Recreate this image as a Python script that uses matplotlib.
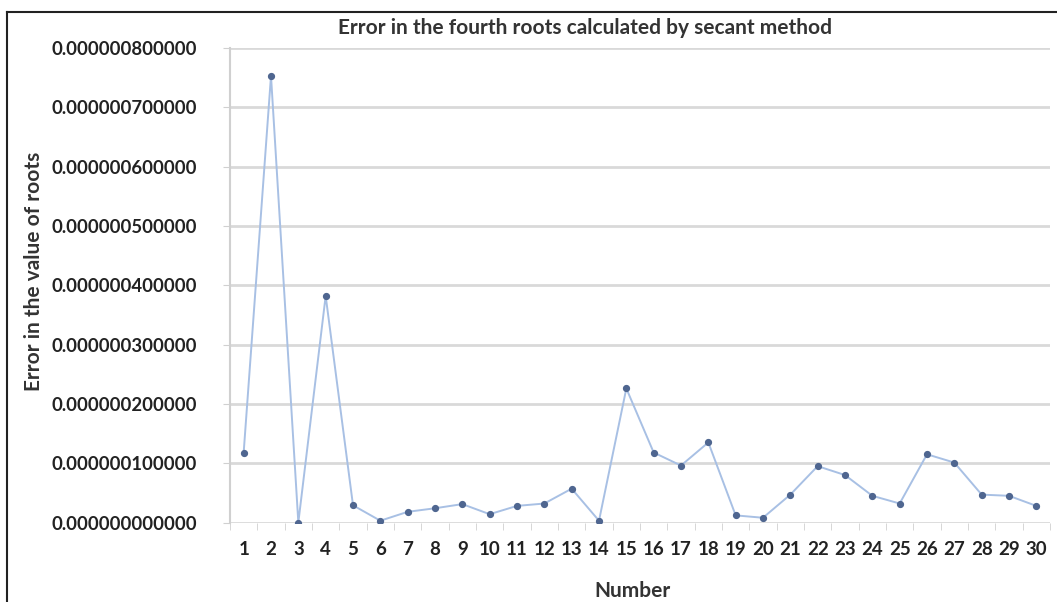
import matplotlib
matplotlib.use("Agg")
import matplotlib.pyplot as plt
from matplotlib.lines import Line2D
from matplotlib.ticker import FixedLocator, FuncFormatter

numbers = list(range(1, 31))
errors_e9 = [118, 753, 0, 382, 29, 3, 18, 24, 31, 14,
             28, 32, 57, 3, 226, 118, 96, 135, 12, 8,
             47, 95, 80, 45, 32, 115, 101, 47, 45, 28]
errors = [v * 1e-9 for v in errors_e9]
y_ticks = [i * 1e-7 for i in range(0, 9)]

title = "Error in the fourth roots calculated by secant method"
xlabel = "Number"
ylabel = "Error in the value of roots"

plt.rcParams['font.family'] = ['Lato', 'DejaVu Sans']
plt.rcParams['font.weight'] = 'bold'

fig = plt.figure(figsize=(10.57, 6.02), dpi=100)
ax = fig.add_axes([230 / 1057, 79.5 / 602, 820 / 1057, 474.5 / 602])

ax.plot(numbers, errors, color='#a8c0e4', lw=1.4, marker='o', ms=4.2,
        mfc='#4f6690', mec='#4f6690', zorder=3)

ax.set_xlim(0.5, 30.5)
ax.set_ylim(0, 8e-7)
ax.yaxis.set_major_locator(FixedLocator(y_ticks))
ax.yaxis.set_major_formatter(FuncFormatter(lambda v, p: f"{v:.12f}"))
ax.set_xticks(numbers)
ax.set_xticks([n + 0.5 for n in range(0, 31)], minor=True)
ax.tick_params(axis='x', which='major', length=0, pad=13, labelsize=13.5, colors='#222222')
ax.tick_params(axis='x', which='minor', length=5, color='#d0d0d0')
ax.tick_params(axis='y', length=5, color='#d0d0d0', pad=19, labelsize=13.3, labelcolor='#222222')
for lab in ax.get_xticklabels() + ax.get_yticklabels():
    lab.set_fontweight('bold')

ax.grid(axis='y', color='#d9d9d9', lw=2)
ax.set_axisbelow(True)
for s in ['top', 'right', 'bottom']:
    ax.spines[s].set_visible(False)
ax.spines['left'].set_color('#d0d0d0')
ax.spines['left'].set_linewidth(1.5)

fig.text(585 / 1057, 1 - 28 / 602, title, ha='center', va='center',
         fontsize=15, fontweight='bold', color='#333333')
fig.text(632 / 1057, 1 - 591 / 602, xlabel, ha='center', va='center',
         fontsize=15, fontweight='bold', color='#333333')
fig.text(34 / 1057, 1 - 271 / 602, ylabel, ha='center', va='center', rotation=90,
         fontsize=15, fontweight='bold', color='#333333')

fig.add_artist(Line2D([7 / 1057, 7 / 1057], [0, 1 - 12 / 602], transform=fig.transFigure,
                      color='#222222', lw=1.5))
fig.add_artist(Line2D([7 / 1057, 1], [1 - 12 / 602, 1 - 12 / 602], transform=fig.transFigure,
                      color='#222222', lw=1.5))

fig.savefig("out.png", dpi=100)
